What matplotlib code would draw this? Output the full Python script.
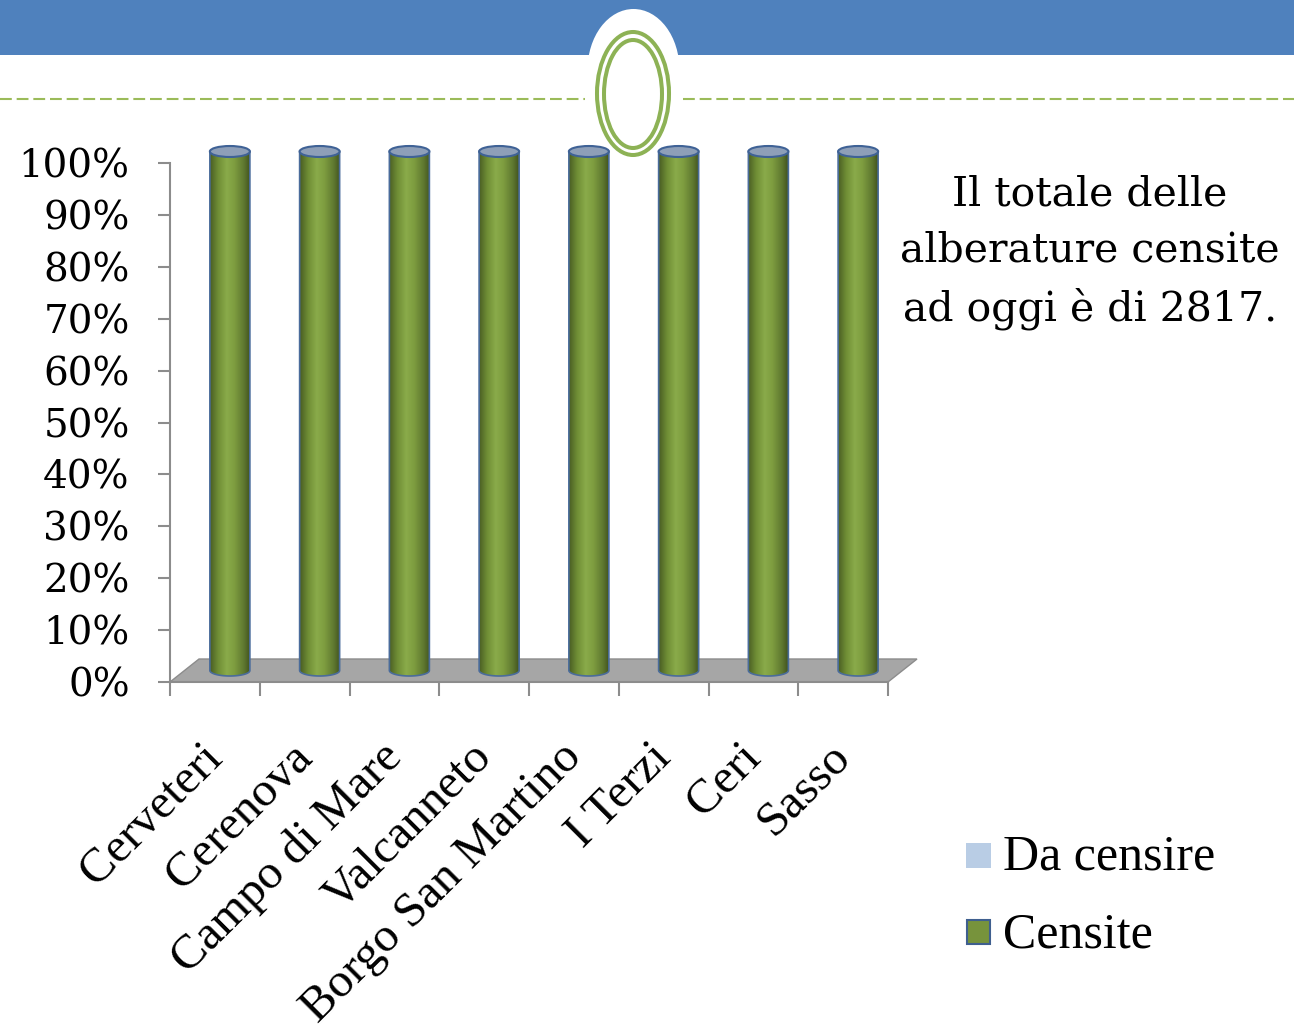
import numpy as np
import matplotlib
matplotlib.use('Agg')
import matplotlib.pyplot as plt
from matplotlib.patches import Polygon, Ellipse, Rectangle
from matplotlib.colors import LinearSegmentedColormap
from matplotlib.transforms import offset_copy

# dati del grafico (percentuale alberature censite per frazione)
frazioni = ['Cerveteri', 'Cerenova', 'Campo di Mare', 'Valcanneto',
            'Borgo San Martino', 'I Terzi', 'Ceri', 'Sasso']
censite = [100, 100, 100, 100, 100, 100, 100, 100]
da_censire = [0, 0, 0, 0, 0, 0, 0, 0]
serie = ['Da censire', 'Censite']
y_ticks = [0, 10, 20, 30, 40, 50, 60, 70, 80, 90, 100]
y_labels = [str(v) + '%' for v in y_ticks]
testo = "Il totale delle\nalberature censite\nad oggi è di 2817."

W, H = 1294, 1035
fig = plt.figure(figsize=(W / 100, H / 100), dpi=100)

# decorazioni della slide (in pixel)
deco = fig.add_axes([0, 0, 1, 1])
deco.set_xlim(0, W)
deco.set_ylim(H, 0)
deco.axis('off')
deco.add_patch(Rectangle((0, 0), W, 55, color='#4f81bd', lw=0))
deco.add_patch(Ellipse((633.5, 70), 92, 122, color='white', lw=0))
plt.rcParams['lines.scale_dashes'] = False
deco.plot([0, 585], [99, 99], color='#9bbb59', lw=1.5, dashes=(8.5, 3.5))
deco.plot([683, W], [99, 99], color='#9bbb59', lw=1.5, dashes=(8.5, 3.5))
deco.add_patch(Ellipse((633, 93.5), 72, 123, fill=False, ec='#8db255', lw=2.9))
deco.add_patch(Ellipse((633, 94), 58, 108, fill=False, ec='#8db255', lw=2.9))

# legenda
deco.add_patch(Rectangle((966, 843), 25, 25, fc='#b9cde5', lw=0))
deco.add_patch(Rectangle((967, 920), 23, 24, fc='#77933c', ec='#3f5f8f', lw=1.5))
deco.text(1003, 870, serie[0], fontsize=36, family='Liberation Serif', va='baseline')
deco.text(1003, 947, serie[1], fontsize=36, family='Liberation Serif', va='baseline')

# area del grafico
ax = fig.add_axes([170 / W, 353 / H, 718 / W, 519 / H])
ax.patch.set_visible(False)
ax.set_zorder(2)

px_x = 8 / 718      # unita' x per pixel
px_y = 100 / 519    # unita' y per pixel
fdx, fdy = 29 * px_x, 23 * px_y       # profondita' del pavimento
bdx, bdy = 15 * px_x, 11.5 * px_y     # centro dei cilindri
bw = 40 * px_x
eh = 11 * px_y

floor = Polygon([(0, 0), (8, 0), (8 + fdx, fdy), (fdx, fdy)], closed=True,
                fc='#a6a6a6', ec='#8c8c8c', lw=1, clip_on=False, zorder=1)
ax.add_patch(floor)

cm = LinearSegmentedColormap.from_list('cil', [
    (0.0, '#4a5e24'), (0.2, '#6f8d35'), (0.42, '#8aab4a'),
    (0.62, '#7d9c3f'), (0.85, '#5f7830'), (1.0, '#43561f')])
grad = np.linspace(0, 1, 100).reshape(1, -1)


def cilindro(cx, y0, y1, cmap, top_fc):
    th = np.linspace(np.pi, 2 * np.pi, 60)
    xs = list(cx + bw / 2 * np.cos(th)) + [cx + bw / 2, cx - bw / 2]
    ys = list(y0 + eh / 2 * np.sin(th)) + [y1, y1]
    body = Polygon(np.column_stack([xs, ys]), closed=True, fc='none',
                   ec='#4a6c9b', lw=1.2, zorder=3, clip_on=False)
    ax.add_patch(body)
    im = ax.imshow(grad, extent=(cx - bw / 2, cx + bw / 2, y0 - eh / 2, y1),
                   cmap=cmap, aspect='auto', interpolation='bilinear', zorder=2)
    im.set_clip_box(fig.bbox)
    im.set_clip_path(body)
    ax.add_patch(Ellipse((cx, y1), bw, eh, fc=top_fc, ec='#3f6296', lw=1.5,
                         zorder=4, clip_on=False))


cm2 = LinearSegmentedColormap.from_list('cil2', ['#9fb4d0', '#c9d7ea', '#9fb4d0'])
for i in range(len(frazioni)):
    cx = i + 0.5 + bdx
    cilindro(cx, bdy, censite[i] + bdy, cm, '#8e9fb8')
    if da_censire[i] > 0:
        cilindro(cx, censite[i] + bdy, censite[i] + da_censire[i] + bdy, cm2, '#dbe5f1')

ax.set_xlim(0, 8)
ax.set_ylim(0, 100)

ax.set_yticks(y_ticks)
ax.set_yticklabels(y_labels, fontsize=28, family='DejaVu Serif')
ax.tick_params(axis='y', length=9, width=1.5, color='#8c8c8c', pad=20)
ax.set_xticks(range(9))
ax.set_xticklabels([])
ax.tick_params(axis='x', length=10, width=1.5, color='#8c8c8c')
for s in ['top', 'right']:
    ax.spines[s].set_visible(False)
for s in ['left', 'bottom']:
    ax.spines[s].set_color('#8c8c8c')
    ax.spines[s].set_linewidth(1.5)

lab_tr = offset_copy(ax.transData, fig=fig, x=9, y=-77, units='dots')
for i, nome in enumerate(frazioni):
    ax.text(i + 0.5, 0, nome, transform=lab_tr, rotation=45, rotation_mode='anchor',
            ha='right', va='baseline', fontsize=35, family='Liberation Serif')

fig.text(1090 / W, 1 - 174 / H, testo, ha='center', va='top', fontsize=29.5,
         family='DejaVu Serif', linespacing=1.53)

fig.savefig('out.png', dpi=100)
